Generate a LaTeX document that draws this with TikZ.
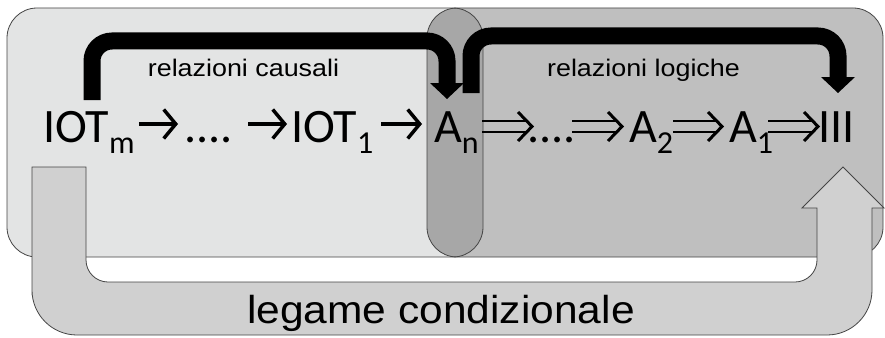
\documentclass[tikz,border=0pt]{standalone}
\usepackage{fontspec}
\setmainfont{Carlito}
\newfontfamily\arialf{Liberation Sans}
\usetikzlibrary{arrows.meta}
\newcommand{\mysub}[1]{\raisebox{-11pt}{\fontsize{32}{32}\selectfont #1}}
\definecolor{boxL}{HTML}{E3E4E4}
\definecolor{boxR}{HTML}{BFBFBF}
\definecolor{boxO}{HTML}{A7A7A7}
\definecolor{ubar}{HTML}{D0D0D0}
\definecolor{edge}{HTML}{454545}
\begin{document}
\begin{tikzpicture}[x=1pt,y=-1pt,
  chain/.style={font=\fontsize{48}{48}\selectfont, inner sep=0pt, anchor=base west},
  lab/.style={font=\arialf\fontsize{24}{24}\selectfont, inner sep=0pt, anchor=base, xscale=1.12},
  biglab/.style={font=\arialf\fontsize{39}{39}\selectfont, inner sep=0pt, anchor=base, xscale=1.09},
  boxedge/.style={draw=edge, line width=0.8pt, rounded corners=30pt},
  karrow/.style={line width=17pt, rounded corners=20pt, black},
  sarr/.style={line width=3.5pt, -{Straight Barb[length=12pt,width=29pt]}},
  dl/.style={line width=2.6pt},
  dh/.style={line width=3pt}]
\useasboundingbox (0,0) rectangle (885,337);
\fill[white] (0,0) rectangle (885,337);
% boxes
\fill[boxL, rounded corners=30pt] (7,8) rectangle (483,257);
\fill[boxR, rounded corners=30pt] (427,8) rectangle (883,257);
\begin{scope}
  \clip[rounded corners=30pt] (7,8) rectangle (483,257);
  \fill[boxO, rounded corners=30pt] (427,8) rectangle (883,257);
\end{scope}
\draw[boxedge] (7,8) rectangle (483,257);
\draw[boxedge] (427,8) rectangle (883,257);
% U arrow (legame condizionale)
\filldraw[fill=ubar, draw=edge, line width=0.8pt]
  (32,167) -- (86,167) -- (86,200) [rounded corners=22pt] -- (86,282) -- (817,282) -- (817,240)
  [sharp corners] -- (817,208) -- (802,208) -- (843,167) -- (884,208) -- (872,208) -- (872,250)
  [rounded corners=45pt] -- (872,335) -- (32,335) -- (32,250) [sharp corners] -- cycle;
% black arrows
\coordinate (k1s) at (92,100);
\coordinate (k1e) at (447,85);
\coordinate (k2s) at (471,93);
\coordinate (k2e) at (838,79);
\draw[karrow] (k1s) -- (92,41) -- (447,41) -- (k1e);
\fill[black] (430,83) -- (464,83) -- (447,99) -- cycle;
\draw[karrow] (k2s) -- (471,36) -- (838,36) -- (k2e);
\fill[black] (821,77) -- (855,77) -- (838,93) -- cycle;
% labels
\node[lab] (rc) at (243.5,77) {relazioni causali};
\node[lab] (rl) at (643.5,77) {relazioni logiche};
\node[biglab] (lc) at (441,323) {legame condizionale};
% chain
\node[chain] (iotm) at (43,142) {IOT\mysub{m}};
\node[chain] (d1) at (184,142) {....};
\node[chain] (iot1) at (291,142) {IOT\mysub{1}};
\node[chain] (an) at (434,142) {A\mysub{n}};
\node[chain] (d2) at (527,142) {....};
\node[chain] (a2) at (629,142) {A\mysub{2}};
\node[chain] (a1) at (729,142) {A\mysub{1}};
\node[chain] (iii) at (818,142) {III};
\draw[sarr] ([shift={(4pt,18pt)}]iotm.base east) -- ([shift={(-6pt,18pt)}]d1.base west);
\draw[sarr] ([shift={(15.6pt,18pt)}]d1.base east) -- ([shift={(-4pt,18pt)}]iot1.base west);
\draw[sarr] ([shift={(7.6pt,18pt)}]iot1.base east) -- ([shift={(-12pt,18pt)}]an.base west);
\coordinate (s4) at ([shift={(3.4pt,15.5pt)}]an.base east);
\coordinate (e4) at ([shift={(5pt,15.5pt)}]d2.base west);
\coordinate (s5) at ([shift={(-3.4pt,15.5pt)}]d2.base east);
\coordinate (e5) at ([shift={(-7pt,15.5pt)}]a2.base west);
\coordinate (s6) at ([shift={(0pt,15.5pt)}]a2.base east);
\coordinate (e6) at ([shift={(-7pt,15.5pt)}]a1.base west);
\coordinate (s7) at ([shift={(-5pt,15.5pt)}]a1.base east);
\coordinate (e7) at ([shift={(0pt,15.5pt)}]iii.base west);
\foreach \s/\e in {s4/e4,s5/e5,s6/e6,s7/e7}{
  \draw[dl] ([yshift=5.5pt]\s) -- ([shift={(-6pt,5.5pt)}]\e);
  \draw[dl] ([yshift=-5.5pt]\s) -- ([shift={(-6pt,-5.5pt)}]\e);
  \draw[dh] ([shift={(-14pt,14.5pt)}]\e) -- (\e) -- ([shift={(-14pt,-14.5pt)}]\e);
}
\end{tikzpicture}
\end{document}
